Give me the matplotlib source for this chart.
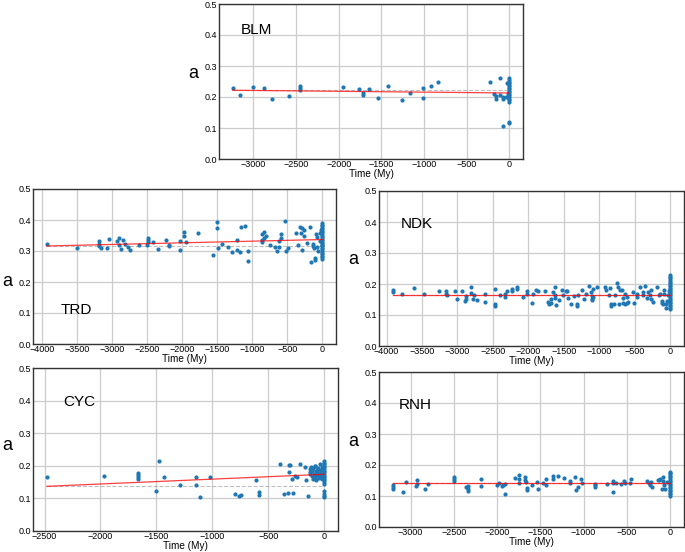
import numpy as np
import matplotlib
matplotlib.use("Agg")
import matplotlib.pyplot as plt
from matplotlib.ticker import MultipleLocator

plt.rcParams['font.family'] = ['Liberation Sans', 'DejaVu Sans']

# BLM
blm_x = [-3241, -3152, -3000, -2872, -2787, -2584, -2448, -2448, -2448, -1951, -1761, -1710, -1710,
         -1640, -1535, -1422, -1259, -1162, -1007, -1007, -921, -832, -225, -105, -179, -152, -152,
         -105, -74, -74, -74, -39, -27, -16]
blm_y = [0.229, 0.206, 0.232, 0.229, 0.195, 0.202, 0.234, 0.228, 0.223, 0.232, 0.225, 0.212, 0.205,
         0.226, 0.197, 0.236, 0.189, 0.212, 0.229, 0.197, 0.236, 0.247, 0.250, 0.260, 0.210, 0.202, 0.195,
         0.205, 0.195, 0.200, 0.107, 0.200, 0.245, 0.210]
blm_y0 = [0.185, 0.19, 0.195, 0.20, 0.205, 0.21, 0.215, 0.22, 0.225, 0.23, 0.235, 0.24, 0.245, 0.25,
          0.255, 0.26, 0.115, 0.12]

# TRD
trd_x = [-3929, -3492, -3186, -3186, -3186, -3153, -3068, -3035, -2932, -2904, -2904, -2866, -2838,
         -2819, -2776, -2744, -2612, -2494, -2480, -2480, -2480, -2414, -2339, -2235, -2179, -2179,
         -2033, -2033, -1976, -1976, -1944, -1774, -1553, -1496, -1496, -1482, -1435, -1341, -1280,
         -1219, -1214, -1172, -1162, -1106, -1064, -1064, -857, -857, -857, -824, -824, -795, -739,
         -678, -640, -621, -621, -588, -588, -532, -518, -494, -367, -344, -311, -301, -287, -292,
         -259, -264, -212, -169, -160, -136, -136, -118, -99, -99, -85, -75, -75, -66, -28, -28, -19,
         -14, -5]
trd_y = [0.323, 0.311, 0.331, 0.324, 0.317, 0.311, 0.309, 0.338, 0.333, 0.342, 0.320, 0.308, 0.335,
         0.324, 0.314, 0.304, 0.320, 0.320, 0.342, 0.335, 0.329, 0.330, 0.306, 0.337, 0.320, 0.316,
         0.332, 0.302, 0.360, 0.347, 0.329, 0.357, 0.286, 0.373, 0.393, 0.310, 0.324, 0.312, 0.296,
         0.303, 0.335, 0.296, 0.377, 0.381, 0.301, 0.269, 0.355, 0.337, 0.328, 0.360, 0.342, 0.350,
         0.318, 0.314, 0.299, 0.332, 0.314, 0.356, 0.341, 0.396, 0.301, 0.310, 0.358, 0.319, 0.379,
         0.358, 0.374, 0.302, 0.368, 0.347, 0.327, 0.376, 0.265, 0.323, 0.315, 0.310, 0.277, 0.272,
         0.354, 0.345, 0.314, 0.300, 0.357, 0.331, 0.367, 0.358, 0.318]
trd_y0 = [0.275, 0.28, 0.285, 0.29, 0.295, 0.30, 0.305, 0.31, 0.315, 0.32, 0.325, 0.33, 0.335, 0.34,
          0.345, 0.35, 0.355, 0.36, 0.365, 0.37, 0.375, 0.38, 0.385, 0.39]

# NDK
ndk_x = [-3911, -3911, -3780, -3611, -3475, -3259, -3166, -3166, -3147, -3030, -3002, -2941, -2894,
         -2885, -2876, -2809, -2805, -2777, -2763, -2725, -2608, -2608, -2477, -2467, -2467, -2402,
         -2327, -2327, -2303, -2228, -2228, -2157, -2157, -2073, -2016, -2016, -1951, -1932, -1890,
         -1862, -1763, -1721, -1707, -1683, -1683, -1646, -1627, -1622, -1622, -1604, -1566, -1529,
         -1510, -1473, -1454, -1445, -1402, -1360, -1308, -1308, -1299, -1243, -1219, -1182, -1140,
         -1121, -1107, -1107, -1107, -1093, -1083, -1036, -919, -905, -868, -853, -835, -835, -797,
         -778, -750, -732, -717, -703, -680, -670, -661, -633, -633, -614, -614, -595, -530, -511,
         -469, -469, -422, -384, -384, -356, -333, -319, -291, -263, -263, -239, -192, -164, -136,
         -117, -108, -99, -84, -80, -61, -52, -38, -34, -23]
ndk_y = [0.180, 0.175, 0.169, 0.188, 0.169, 0.177, 0.179, 0.169, 0.163, 0.177, 0.153, 0.179, 0.146,
         0.153, 0.160, 0.170, 0.191, 0.153, 0.166, 0.150, 0.169, 0.142, 0.183, 0.137, 0.129, 0.165,
         0.158, 0.169, 0.176, 0.184, 0.176, 0.191, 0.185, 0.158, 0.176, 0.169, 0.140, 0.169, 0.180,
         0.179, 0.179, 0.143, 0.137, 0.151, 0.140, 0.173, 0.191, 0.166, 0.155, 0.133, 0.148, 0.180,
         0.163, 0.177, 0.177, 0.156, 0.136, 0.160, 0.137, 0.129, 0.166, 0.180, 0.152, 0.168, 0.193,
         0.173, 0.162, 0.153, 0.148, 0.158, 0.185, 0.191, 0.191, 0.180, 0.165, 0.186, 0.128, 0.135,
         0.134, 0.166, 0.204, 0.189, 0.137, 0.180, 0.182, 0.140, 0.156, 0.169, 0.134, 0.158, 0.140,
         0.142, 0.173, 0.139, 0.169, 0.158, 0.191, 0.166, 0.173, 0.194, 0.156, 0.173, 0.164, 0.180,
         0.153, 0.142, 0.189, 0.166, 0.169, 0.145, 0.140, 0.137, 0.169, 0.180, 0.134, 0.123, 0.144,
         0.163, 0.177]
ndk_y0 = [0.118, 0.123, 0.128, 0.133, 0.138, 0.143, 0.148, 0.153, 0.158, 0.163, 0.168, 0.173, 0.178,
          0.183, 0.188, 0.193, 0.198, 0.203, 0.208, 0.213, 0.218, 0.223, 0.228]

# CYC
cyc_x = [-2479, -1968, -1662, -1662, -1662, -1662, -1499, -1478, -1430, -1286, -1149, -1149, -1107,
         -1021, -799, -757, -745, -606, -579, -579, -398, -362, -327, -318, -309, -318, -288, -276,
         -258, -243, -214, -169, -163, -140,
         -128, -122, -118, -112, -105, -100, -96, -90, -85, -80, -76, -70, -66, -60, -55, -50, -45,
         -40, -35, -30, -25, -20, -15, -10, -125, -110, -95, -82, -72, -62, -52, -42, -32, -22, -12]
cyc_y = [0.166, 0.168, 0.178, 0.172, 0.166, 0.160, 0.122, 0.214, 0.167, 0.142, 0.166, 0.140, 0.103,
         0.167, 0.113, 0.106, 0.109, 0.157, 0.120, 0.109, 0.205, 0.113, 0.116, 0.203, 0.201, 0.180,
         0.160, 0.116, 0.170, 0.166, 0.206, 0.196, 0.155, 0.108,
         0.190, 0.180, 0.197, 0.170, 0.185, 0.160, 0.192, 0.175, 0.165, 0.198, 0.183, 0.158, 0.188,
         0.172, 0.194, 0.162, 0.178, 0.204, 0.168, 0.187, 0.176, 0.195, 0.163, 0.182, 0.174, 0.186,
         0.169, 0.200, 0.157, 0.179, 0.191, 0.171, 0.184, 0.160, 0.193]
cyc_y0 = [0.145, 0.15, 0.155, 0.16, 0.165, 0.17, 0.175, 0.18, 0.185, 0.19, 0.195, 0.20, 0.205, 0.21,
          0.215, 0.103, 0.108, 0.113, 0.122]

# RNH
rnh_x = [-3204, -3204, -3204, -3085, -3054, -2942, -2927, -2927, -2835, -2796, -2496, -2496, -2496,
         -2354, -2331, -2331, -2331, -2185, -2185, -2004, -1981, -1946, -1935, -1908, -1908, -1788,
         -1742, -1742, -1742, -1681, -1673, -1669, -1650, -1650, -1596, -1538, -1531, -1465, -1435,
         -1435, -1354, -1354, -1292, -1223, -1154, -1154, -1104, -1088, -1065, -1031, -1023, -865,
         -865, -865, -731, -665, -658, -658, -623, -569, -538, -519, -454, -465, -262, -250, -235,
         -223, -212, -146, -127, -115, -96, -88, -81, -69, -58, -31]
rnh_y = [0.135, 0.128, 0.123, 0.113, 0.144, 0.131, 0.151, 0.139, 0.122, 0.140, 0.161, 0.154, 0.149,
         0.128, 0.131, 0.123, 0.116, 0.154, 0.133, 0.135, 0.143, 0.131, 0.135, 0.140, 0.108, 0.157,
         0.168, 0.156, 0.143, 0.162, 0.153, 0.146, 0.126, 0.120, 0.135, 0.145, 0.124, 0.141, 0.156,
         0.136, 0.164, 0.156, 0.164, 0.159, 0.148, 0.143, 0.161, 0.119, 0.129, 0.156, 0.142, 0.140,
         0.134, 0.128, 0.140, 0.149, 0.143, 0.113, 0.141, 0.138, 0.148, 0.143, 0.154, 0.141, 0.149,
         0.142, 0.135, 0.146, 0.129, 0.153, 0.151, 0.156, 0.123, 0.161, 0.147, 0.135, 0.124, 0.145]
rnh_y0 = [0.100, 0.105, 0.110, 0.115, 0.120, 0.125, 0.130, 0.135, 0.140, 0.145, 0.150, 0.155, 0.160,
          0.165, 0.170, 0.175, 0.178]

# 拟合直线: 截距(0 My处) 和 斜率(每My)
fit_b = {'BLM': 0.213, 'TRD': 0.337, 'NDK': 0.165, 'CYC': 0.174, 'RNH': 0.141}
fit_k = {'BLM': -2.7e-6, 'TRD': 5.3e-6, 'NDK': 0.0, 'CYC': 1.49e-5, 'RNH': 0.0}

W, H = 685, 552
fig = plt.figure(figsize=(W / 100, H / 100), dpi=100)

# name, x, y, y at 0, axes rect in pixels (left, top, right, bottom), label pos, ylabel y
panels = [
    ('BLM', blm_x, blm_y, blm_y0, (219, 4, 523, 159), (0.07, 0.83), 0.5),
    ('TRD', trd_x, trd_y, trd_y0, (33, 189, 336, 344), (0.09, 0.22), 0.35),
    ('NDK', ndk_x, ndk_y, ndk_y0, (379, 191, 684, 346), (0.07, 0.79), 0.5),
    ('CYC', cyc_x, cyc_y, cyc_y0, (33, 368, 338, 531), (0.10, 0.79), 0.47),
    ('RNH', rnh_x, rnh_y, rnh_y0, (379, 372, 684, 527), (0.065, 0.79), 0.5),
]

for name, xs, ys, y0, (l, t, r, b), (tx, ty), ly in panels:
    ax = fig.add_axes([l / W, 1 - b / H, (r - l) / W, (b - t) / H])
    ax.set_axisbelow(True)
    ax.grid(True, color='#cccccc', lw=0.9)
    xx = list(xs) + [0] * len(y0)
    yy = list(ys) + list(y0)
    ax.scatter(xx, yy, s=9, color='#1f77b4', linewidths=0, zorder=3)
    xmin = min(xs)
    fx = np.array([xmin, 0])
    ax.plot(fx, [fit_b[name] + fit_k[name] * xmin] * 2, color='grey', lw=0.8,
            ls='--', alpha=0.5, zorder=2)
    ax.plot(fx, fit_b[name] + fit_k[name] * fx, color='red', lw=0.9, alpha=0.75, zorder=4)
    ax.set_ylim(0, 0.5)
    ax.yaxis.set_major_locator(MultipleLocator(0.1))
    ax.xaxis.set_major_locator(MultipleLocator(500))
    ax.tick_params(labelsize=6.5, length=0)
    ax.tick_params(axis='x', pad=0.5)
    ax.tick_params(axis='y', pad=1.5)
    for s in ax.spines.values():
        s.set_color('#333333')
        s.set_linewidth(1.0)
    ax.set_xlabel('Time (My)', fontsize=7.2, labelpad=0)
    ax.set_ylabel('a', fontsize=13, rotation=0)
    ax.yaxis.set_label_coords(-0.085, ly)
    ax.text(tx, ty, name, transform=ax.transAxes, fontsize=11, ha='left', va='center')

fig.savefig('out.png', dpi=100)
